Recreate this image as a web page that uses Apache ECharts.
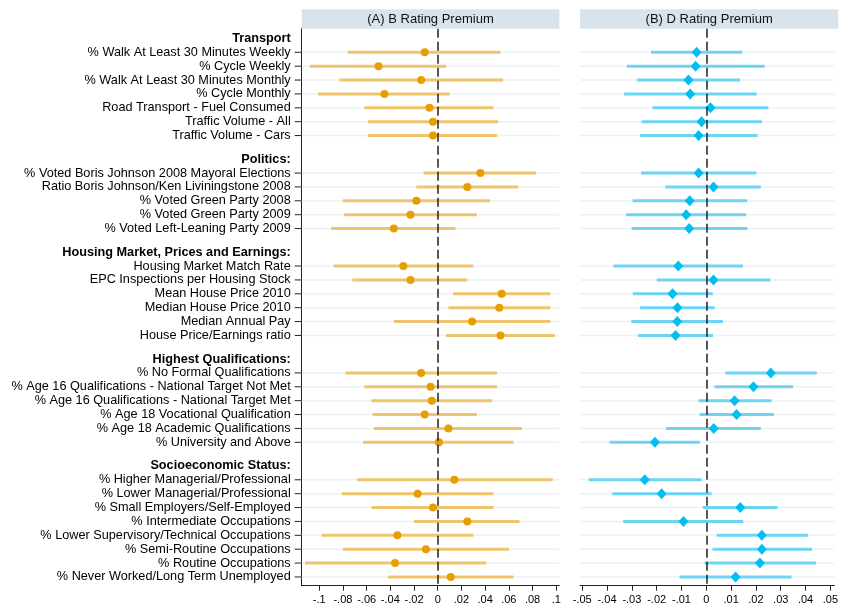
<!DOCTYPE html>
<html>
<head>
<meta charset="utf-8">
<title>Rating premium coefficients</title>
<script src="https://cdn.jsdelivr.net/npm/echarts@6.0.0/dist/echarts.min.js"></script>
<style>
  html, body { margin: 0; padding: 0; background: #fff; }
  #chart { width: 841px; height: 611px; }
</style>
</head>
<body>
<div id="chart"></div>
<script>
// 分组标题
const groupTitles = ['Transport', 'Politics:', 'Housing Market, Prices and Earnings:', 'Highest Qualifications:', 'Socioeconomic Status:'];

// 各组变量名
const transportLabels = [
    '% Walk At Least 30 Minutes Weekly', '% Cycle Weekly', '% Walk At Least 30 Minutes Monthly',
    '% Cycle Monthly', 'Road Transport - Fuel Consumed', 'Traffic Volume - All', 'Traffic Volume - Cars'
];
const politicsLabels = [
    '% Voted Boris Johnson 2008 Mayoral Elections', 'Ratio Boris Johnson/Ken Liviningstone 2008',
    '% Voted Green Party 2008', '% Voted Green Party 2009', '% Voted Left-Leaning Party 2009'
];
const housingLabels = [
    'Housing Market Match Rate', 'EPC Inspections per Housing Stock', 'Mean House Price 2010',
    'Median House Price 2010', 'Median Annual Pay', 'House Price/Earnings ratio'
];
const qualLabels = [
    '% No Formal Qualifications', '% Age 16 Qualifications - National Target Not Met',
    '% Age 16 Qualifications - National Target Met', '% Age 18 Vocational Qualification',
    '% Age 18 Academic Qualifications', '% University and Above'
];
const socioLabels = [
    '% Higher Managerial/Professional', '% Lower Managerial/Professional', '% Small Employers/Self-Employed',
    '% Intermediate Occupations', '% Lower Supervisory/Technical Occupations', '% Semi-Routine Occupations',
    '% Routine Occupations', '% Never Worked/Long Term Unemployed'
];

// (A) B Rating Premium：点估计与置信区间
const bEst = [
    -0.011, -0.050, -0.014, -0.045, -0.007, -0.004, -0.004,
    0.036, 0.025, -0.018, -0.023, -0.037,
    -0.029, -0.023, 0.054, 0.052, 0.029, 0.053,
    -0.014, -0.006, -0.005, -0.011, 0.009, 0.001,
    0.014, -0.017, -0.004, 0.025, -0.034, -0.010, -0.036, 0.011
];
const bLow = [
    -0.076, -0.108, -0.083, -0.101, -0.062, -0.059, -0.059,
    -0.012, -0.018, -0.080, -0.079, -0.090,
    -0.088, -0.072, 0.013, 0.009, -0.037, 0.007,
    -0.078, -0.062, -0.056, -0.055, -0.054, -0.063,
    -0.068, -0.081, -0.056, -0.020, -0.098, -0.080, -0.112, -0.042
];
const bHigh = [
    0.053, 0.007, 0.055, 0.010, 0.047, 0.051, 0.050,
    0.083, 0.068, 0.044, 0.033, 0.015,
    0.030, 0.025, 0.095, 0.095, 0.095, 0.099,
    0.050, 0.050, 0.046, 0.033, 0.071, 0.064,
    0.097, 0.047, 0.047, 0.069, 0.030, 0.060, 0.041, 0.064
];

// (B) D Rating Premium
const dEst = [
    -0.0039, -0.0043, -0.0072, -0.0065, 0.0017, -0.0019, -0.0031,
    -0.0031, 0.0029, -0.0067, -0.0081, -0.0069,
    -0.0113, 0.0029, -0.0136, -0.0116, -0.0117, -0.0124,
    0.0260, 0.0190, 0.0114, 0.0122, 0.0030, -0.0207,
    -0.0248, -0.0180, 0.0137, -0.0092, 0.0224, 0.0224, 0.0216, 0.0118
];
const dLow = [
    -0.0223, -0.0320, -0.0280, -0.0331, -0.0217, -0.0261, -0.0267,
    -0.0263, -0.0165, -0.0297, -0.0323, -0.0301,
    -0.0374, -0.0199, -0.0296, -0.0267, -0.0302, -0.0275,
    0.0077, 0.0033, -0.0031, -0.0027, -0.0162, -0.0390,
    -0.0474, -0.0379, -0.0014, -0.0335, 0.0042, 0.0025, -0.0007, -0.0108
];
const dHigh = [
    0.0145, 0.0235, 0.0136, 0.0203, 0.0250, 0.0224, 0.0207,
    0.0202, 0.0220, 0.0165, 0.0161, 0.0165,
    0.0148, 0.0258, 0.0026, 0.0034, 0.0067, 0.0027,
    0.0445, 0.0350, 0.0263, 0.0272, 0.0220, -0.0026,
    -0.0019, 0.0021, 0.0287, 0.0149, 0.0410, 0.0426, 0.0442, 0.0343
];

// x轴刻度
const xTicksA = [-0.1, -0.08, -0.06, -0.04, -0.02, 0, 0.02, 0.04, 0.06, 0.08, 0.1];
const xTicksB = [-0.05, -0.04, -0.03, -0.02, -0.01, 0, 0.01, 0.02, 0.03, 0.04, 0.05];

const FONT = "'Liberation Sans', Arial, Helvetica, sans-serif";
const GROUP_GAP = 2.7;     // 组与组之间的行距
const HEADER_OFFSET = 1.0; // 标题在第一行之上

// 计算每行在y轴上的位置
const groups = [transportLabels, politicsLabels, housingLabels, qualLabels, socioLabels];
const rowPos = [];
const labelMap = {};
let pos = 0;
groups.forEach((labels, g) => {
    if (g > 0) pos += GROUP_GAP - 1;
    labelMap[(pos - HEADER_OFFSET).toFixed(2)] = '{h|' + groupTitles[g] + '}';
    labels.forEach(lab => {
        rowPos.push(pos);
        labelMap[pos.toFixed(2)] = lab;
        pos += 1;
    });
});
const labelPos = Object.keys(labelMap).map(Number);

function fmtTick(v) {
    const s = parseFloat(v.toFixed(3)).toString();
    return s.replace('0.', '.');
}

// 置信区间 + 浅色行线（左图另画y轴刻度）
function ciSeries(axisIdx, low, high, color, withTicks) {
    return {
        type: 'custom',
        xAxisIndex: axisIdx,
        yAxisIndex: axisIdx,
        z: 1,
        clip: false,
        data: rowPos.map((p, i) => [low[i], high[i], p]),
        encode: { x: [0, 1], y: 2 },
        renderItem: function(params, api) {
            const cs = params.coordSys;
            const a = api.coord([api.value(0), api.value(2)]);
            const b = api.coord([api.value(1), api.value(2)]);
            const children = [
                { type: 'line', shape: { x1: cs.x, y1: a[1], x2: cs.x + cs.width, y2: a[1] },
                  style: { stroke: '#EBF1F4', lineWidth: 1.5 } },
                { type: 'line', shape: { x1: a[0], y1: a[1], x2: b[0], y2: b[1] },
                  style: { stroke: color, lineWidth: 3 } }
            ];
            if (withTicks) {
                children.push({ type: 'line', shape: { x1: cs.x - 7, y1: a[1], x2: cs.x, y2: a[1] },
                    style: { stroke: '#222', lineWidth: 1 } });
            }
            return { type: 'group', children: children };
        },
        markLine: {
            silent: true,
            symbol: 'none',
            label: { show: false },
            lineStyle: { color: '#222', width: 1.5, type: [9, 4] },
            data: [{ xAxis: 0 }]
        }
    };
}

const yBase = {
    type: 'value',
    inverse: true,
    min: -1.7,
    max: 38.43,
    splitLine: { show: false }
};

const xBase = {
    type: 'value',
    splitLine: { show: false },
    axisLine: { show: true, onZero: false, lineStyle: { color: '#222', width: 1 } },
    axisTick: { show: true, length: 5, lineStyle: { color: '#222' } },
    axisLabel: { fontSize: 11, color: '#000', fontFamily: FONT, margin: 9, formatter: fmtTick }
};

const chart = echarts.init(document.getElementById('chart'));

chart.setOption({
    backgroundColor: '#fff',
    animation: false,
    graphic: [
        {
            type: 'rect',
            shape: { x: 301.7, y: 9.3, width: 257.6, height: 19.4 },
            style: { fill: '#D8E4EB' },
            textContent: { style: { text: '(A) B Rating Premium', fontSize: 13, fill: '#111', fontFamily: FONT } },
            textConfig: { position: 'inside' }
        },
        {
            type: 'rect',
            shape: { x: 580, y: 9.3, width: 258.3, height: 19.4 },
            style: { fill: '#D8E4EB' },
            textContent: { style: { text: '(B) D Rating Premium', fontSize: 13, fill: '#111', fontFamily: FONT } },
            textConfig: { position: 'inside' }
        }
    ],
    grid: [
        { left: 301.7, top: 28.7, width: 257.6, height: 557 },
        { left: 580, top: 28.7, width: 258.3, height: 557 }
    ],
    xAxis: [
        Object.assign({}, xBase, {
            gridIndex: 0, min: -0.1148, max: 0.1026,
            axisTick: Object.assign({}, xBase.axisTick, { customValues: xTicksA }),
            axisLabel: Object.assign({}, xBase.axisLabel, { customValues: xTicksA })
        }),
        Object.assign({}, xBase, {
            gridIndex: 1, min: -0.0509, max: 0.0516,
            axisTick: Object.assign({}, xBase.axisTick, { customValues: xTicksB }),
            axisLabel: Object.assign({}, xBase.axisLabel, { customValues: xTicksB })
        })
    ],
    yAxis: [
        Object.assign({}, yBase, {
            gridIndex: 0,
            axisLine: { show: true, onZero: false, lineStyle: { color: '#222', width: 1 } },
            axisTick: { show: false },
            axisLabel: {
                customValues: labelPos,
                margin: 11,
                fontSize: 12.7,
                color: '#000',
                fontFamily: FONT,
                formatter: v => labelMap[v.toFixed(2)] || '',
                rich: { h: { fontWeight: 'bold', fontSize: 12.7, color: '#000', fontFamily: FONT } }
            }
        }),
        Object.assign({}, yBase, { gridIndex: 1, show: false })
    ],
    series: [
        ciSeries(0, bLow, bHigh, '#EFC46F', true),
        {
            type: 'scatter',
            xAxisIndex: 0,
            yAxisIndex: 0,
            z: 3,
            symbol: 'circle',
            symbolSize: 8,
            itemStyle: { color: '#E69F00', opacity: 1 },
            data: rowPos.map((p, i) => [bEst[i], p])
        },
        ciSeries(1, dLow, dHigh, '#6FD4F4', false),
        {
            type: 'scatter',
            xAxisIndex: 1,
            yAxisIndex: 1,
            z: 3,
            symbol: 'diamond',
            symbolSize: [10, 11],
            itemStyle: { color: '#00BFF0', opacity: 1 },
            data: rowPos.map((p, i) => [dEst[i], p])
        }
    ]
});

window.addEventListener('resize', () => chart.resize());
</script>
</body>
</html>
